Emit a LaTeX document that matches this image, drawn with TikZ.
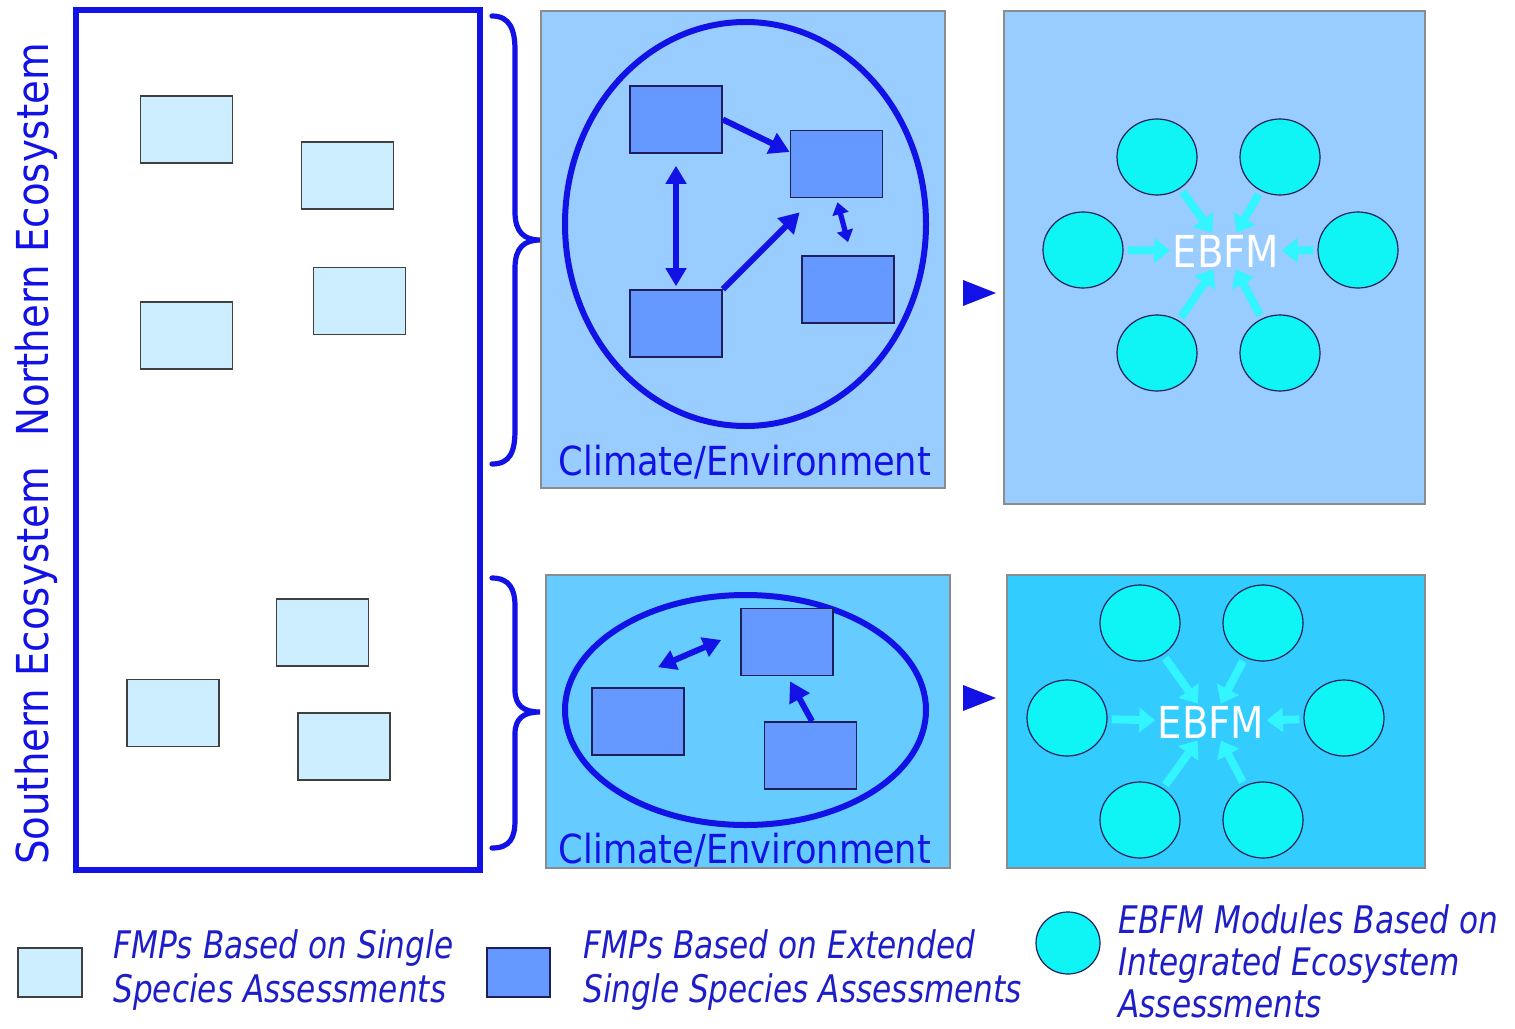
\documentclass[tikz,border=0pt]{standalone}
\usepackage{fontspec}
\usetikzlibrary{arrows.meta,shapes.geometric,calc}
\newfontfamily\labfont[FakeStretch=0.88]{DejaVu Sans}
\newfontfamily\legfont[FakeStretch=0.82]{DejaVu Sans}
\definecolor{mainblue}{RGB}{18,18,230}
\definecolor{legblue}{RGB}{30,30,200}
\definecolor{lightrectc}{RGB}{204,238,255}
\definecolor{darkrectc}{RGB}{102,153,255}
\definecolor{panelA}{RGB}{153,204,255}
\definecolor{panelB}{RGB}{102,204,255}
\definecolor{panelC}{RGB}{51,204,255}
\definecolor{circc}{RGB}{15,245,245}
\definecolor{cyarr}{RGB}{50,245,255}
\definecolor{navy}{RGB}{30,30,90}
\begin{document}
\begin{tikzpicture}[x=0.5pt,y=-0.5pt,
  lightrect/.style={draw=black!75, line width=0.6pt, fill=lightrectc, minimum width=46pt, minimum height=33.5pt, inner sep=0pt},
  darkrect/.style={draw=navy, line width=0.8pt, fill=darkrectc, minimum width=46pt, minimum height=33.5pt, inner sep=0pt},
  panel/.style={draw=black!45, line width=0.6pt, inner sep=0pt},
  circ/.style={ellipse, draw=navy, line width=0.6pt, fill=circc, minimum width=40pt, minimum height=38pt, inner sep=0pt},
  barrow/.style={draw=mainblue, line width=3pt, -{Triangle[length=10pt,width=11pt]}},
  bdarrow/.style={draw=mainblue, line width=3pt, {Triangle[length=9pt,width=10pt]}-{Triangle[length=9pt,width=10pt]}},
  sdarrow/.style={draw=mainblue, line width=2.6pt, {Triangle[length=6pt,width=8pt]}-{Triangle[length=6pt,width=8pt]}},
  cyarrow/.style={draw=cyarr, line width=4pt, -{Triangle[length=8pt,width=12pt]}, shorten <=2pt, shorten >=0pt},
  brace/.style={draw=mainblue, line width=2.6pt, line cap=round},
  clim/.style={text=mainblue, font=\labfont\fontsize{20}{24}\selectfont, inner sep=0pt},
  ebfm/.style={text=white, font=\labfont\fontsize{22}{26}\selectfont, inner sep=1pt},
  side/.style={rotate=90, text=mainblue, font=\labfont\fontsize{22}{26}\selectfont, inner sep=0pt},
  legtext/.style={anchor=west, align=left, text=legblue, font=\legfont\itshape\fontsize{19}{22}\selectfont, inner sep=0pt}
]
\useasboundingbox (0,0) rectangle (1515,1028);
\fill[white] (0,0) rectangle (1515,1028);

% left frame
\node[draw=mainblue, line width=2.6pt, fill=white, minimum width=202pt, minimum height=430pt, inner sep=0pt] (frame) at (278,440) {};
\node[side] (north) at (36,240) {Northern Ecosystem};
\node[side] (south) at (36,666) {Southern Ecosystem};

% single-species rectangles
\node[lightrect] (L1) at (186.5,129.5) {};
\node[lightrect] (L2) at (347.5,175.5) {};
\node[lightrect] (L3) at (186.5,335.5) {};
\node[lightrect] (L4) at (359.5,301) {};
\node[lightrect] (L5) at (322.5,632.5) {};
\node[lightrect] (L6) at (173,713) {};
\node[lightrect] (L7) at (344,746.5) {};

% braces
\draw[brace] (492,16) .. controls (510,16) and (515,30) .. (515,50) -- (515,212)
  .. controls (515,232) and (524,240) .. (540,240)
  .. controls (524,240) and (515,248) .. (515,268) -- (515,430)
  .. controls (515,452) and (510,464) .. (492,464);
\draw[brace] (492,578) .. controls (510,578) and (515,590) .. (515,606) -- (515,690)
  .. controls (515,706) and (524,712) .. (540,712)
  .. controls (524,712) and (515,718) .. (515,734) -- (515,820)
  .. controls (515,838) and (510,848) .. (492,848);

% panels
\node[panel, fill=panelA, minimum width=202pt, minimum height=238.5pt] (P1) at (743,249.5) {};
\node[panel, fill=panelA, minimum width=210.5pt, minimum height=246.5pt] (P2) at (1214.5,257.5) {};
\node[panel, fill=panelB, minimum width=202pt, minimum height=146.5pt] (P3) at (748,721.5) {};
\node[panel, fill=panelC, minimum width=209pt, minimum height=146.5pt] (P4) at (1216,721.5) {};

% panel 1
\draw[draw=mainblue, line width=3pt] (745.5,224) ellipse [x radius=180.5, y radius=202];
\node[darkrect] (D1) at (676,119.5) {};
\node[darkrect] (D2) at (836.5,164) {};
\node[darkrect] (D3) at (676,323.5) {};
\node[darkrect] (D4) at (848,289.5) {};
\draw[barrow] (D1.east) -- ($(D2.west)+(0,-12)$);
\draw[bdarrow] ($(D1.south)+(0,12)$) -- ($(D3.north)+(0,-3)$);
\draw[barrow] (D3.north east) -- ($(D2.south west)+(10,14)$);
\draw[sdarrow] ($(D2.south)+(1,4)$) -- ($(D4.north)+(0,-13)$);
\node[clim] (clim1) at (745,462) {Climate/Environment};

% panel 3
\draw[draw=mainblue, line width=3pt] (745.5,710) ellipse [x radius=180.5, y radius=115];
\node[darkrect] (D5) at (638,721.5) {};
\node[darkrect] (D6) at (787,642) {};
\node[darkrect] (D7) at (810.5,755.5) {};
\draw[bdarrow] ($(D5.north)+(20,-20)$) -- ($(D6.west)+(-19,-2)$);
\draw[barrow] ($(D7.north)+(1.5,0)$) -- ($(D6.south)+(3,5)$);
\node[clim] (clim2) at (745,850) {Climate/Environment};

% big arrows
\fill[mainblue] (963,280) -- (996,293) -- (963,306) -- cycle;
\fill[mainblue] (963,685) -- (996,698) -- (963,711) -- cycle;

% panel 2
\node[ebfm] (E1) at (1226,251) {EBFM};
\node[circ] (C1) at (1157,157) {};
\node[circ] (C2) at (1280,157) {};
\node[circ] (C3) at (1083,250) {};
\node[circ] (C4) at (1358,250) {};
\node[circ] (C5) at (1157,353) {};
\node[circ] (C6) at (1280,353) {};
\foreach \c in {C1,C2,C3,C4,C5,C6} \draw[cyarrow] (\c) -- (E1);

% panel 4
\node[ebfm] (E2) at (1211,722) {EBFM};
\node[circ] (K1) at (1140,623) {};
\node[circ] (K2) at (1263,623) {};
\node[circ] (K3) at (1067,718) {};
\node[circ] (K4) at (1344,718) {};
\node[circ] (K5) at (1140,820) {};
\node[circ] (K6) at (1263,820) {};
\foreach \c in {K1,K2,K3,K4,K5,K6} \draw[cyarrow] (\c) -- (E2);

% legend
\node[lightrect, minimum width=32pt, minimum height=24.5pt] (k1) at (50,972.5) {};
\node[legtext] (t1) at (113,970) {FMPs Based on Single\\Species Assessments};
\node[darkrect, minimum width=31.5pt, minimum height=24.5pt] (k2) at (518.5,972.5) {};
\node[legtext] (t2) at (583,970) {FMPs Based on Extended\\Single Species Assessments};
\node[circ, minimum width=32pt, minimum height=31pt] (k3) at (1068,943) {};
\node[legtext, font=\legfont\itshape\fontsize{19}{21}\selectfont] (t3) at (1118,961) {EBFM Modules Based on\\Integrated Ecosystem\\Assessments};
\end{tikzpicture}
\end{document}
